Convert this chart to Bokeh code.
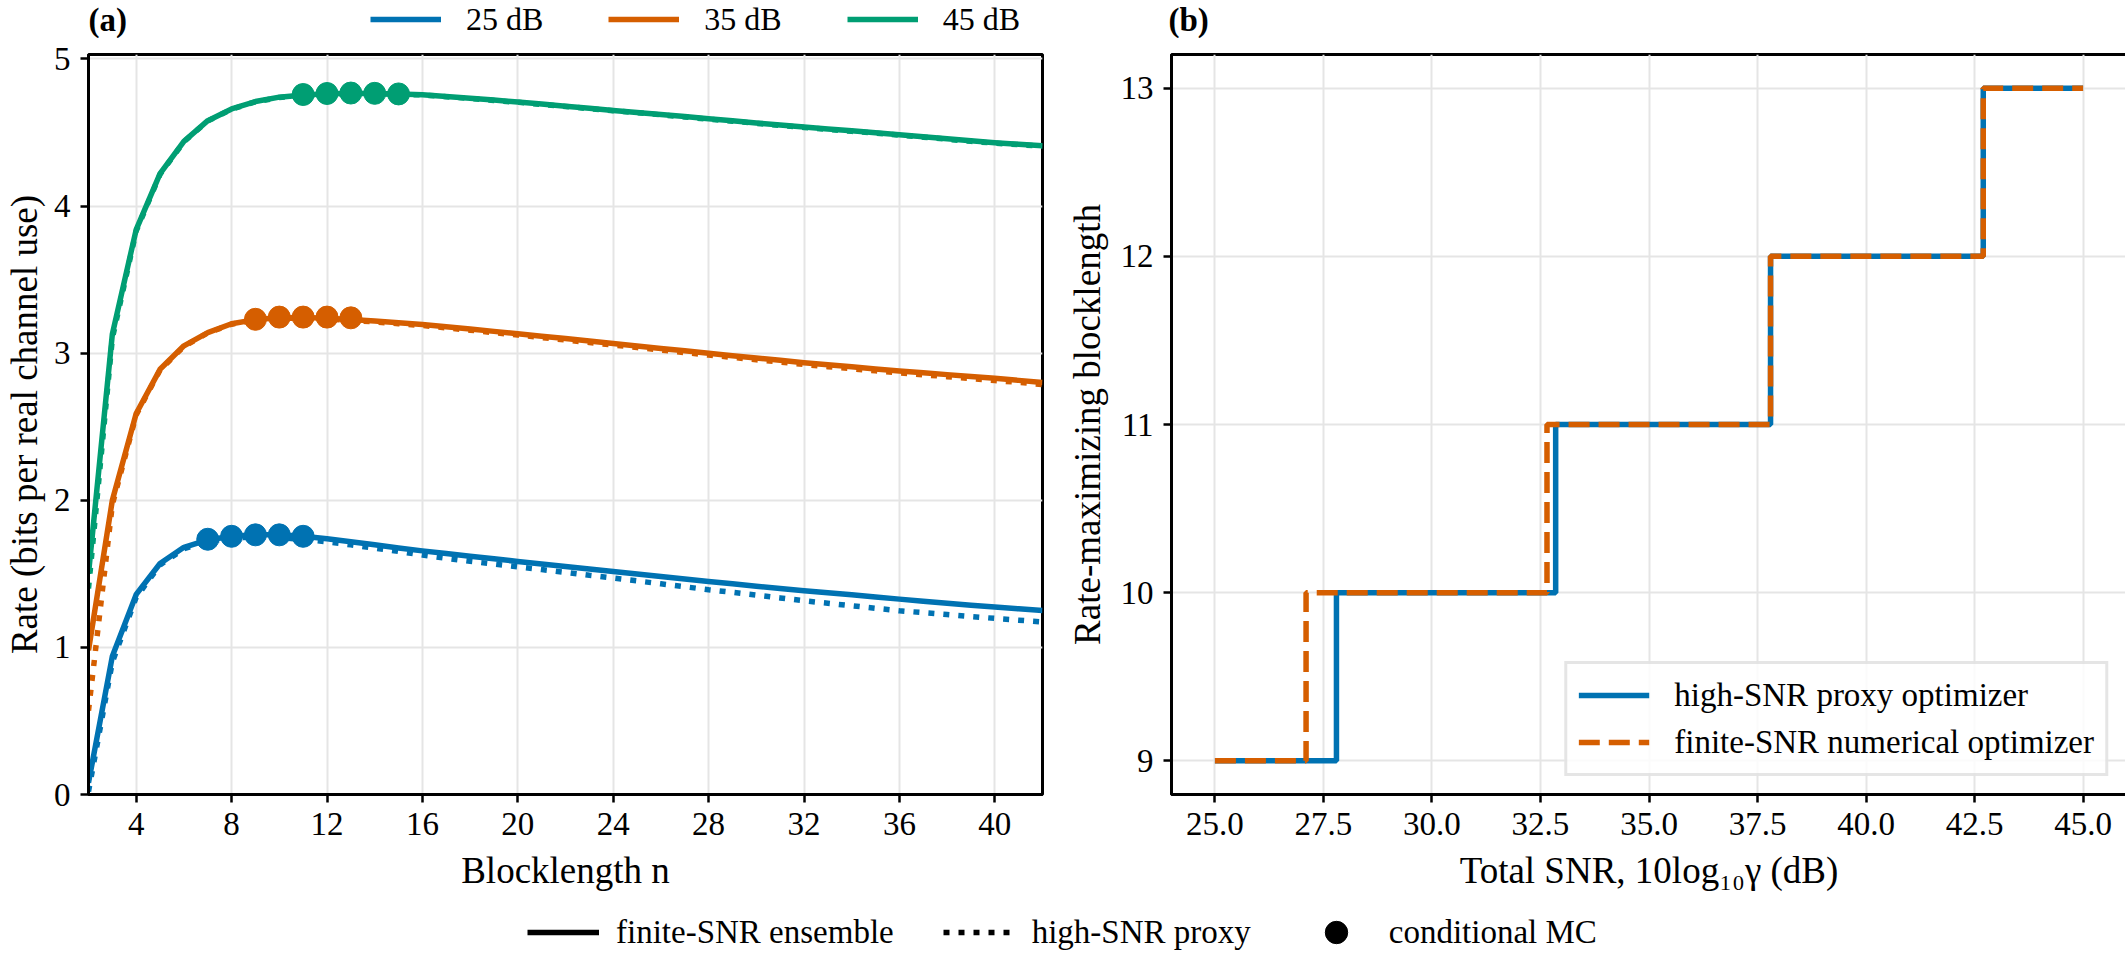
from bokeh.plotting import figure
from bokeh.models import Range1d, Legend, LegendItem, Label, FixedTicker, NumeralTickFormatter
from bokeh.layouts import column, row
from bokeh.embed import file_html
from bokeh.resources import INLINE

# ---------------- data: panel (a) ----------------
blocklength = list(range(2, 43))

rate_25_finite = [0.08, 0.94, 1.36, 1.57, 1.68, 1.73, 1.755, 1.765, 1.765, 1.755,
                  1.738, 1.718, 1.697, 1.676, 1.656, 1.638, 1.62, 1.602, 1.584, 1.567,
                  1.55, 1.533, 1.516, 1.499, 1.482, 1.465, 1.448, 1.432, 1.416, 1.40,
                  1.385, 1.371, 1.357, 1.342, 1.328, 1.314, 1.30, 1.287, 1.274, 1.262, 1.25]
rate_25_proxy = [0.02, 0.90, 1.34, 1.56, 1.67, 1.72, 1.745, 1.75, 1.745, 1.735,
                 1.718, 1.697, 1.675, 1.652, 1.628, 1.606, 1.585, 1.566, 1.548, 1.529,
                 1.51, 1.49, 1.471, 1.452, 1.432, 1.412, 1.392, 1.374, 1.355, 1.336,
                 1.317, 1.30, 1.283, 1.266, 1.249, 1.236, 1.223, 1.21, 1.197, 1.185, 1.173]
rate_35_finite = [0.98, 2.00, 2.59, 2.89, 3.05, 3.14, 3.20, 3.228, 3.24, 3.242,
                  3.237, 3.228, 3.218, 3.207, 3.195, 3.18, 3.164, 3.148, 3.132, 3.115,
                  3.099, 3.082, 3.066, 3.049, 3.032, 3.016, 2.999, 2.983, 2.967, 2.951,
                  2.935, 2.921, 2.907, 2.893, 2.879, 2.866, 2.854, 2.841, 2.829, 2.815, 2.80]
rate_35_proxy = [0.57, 1.97, 2.58, 2.885, 3.046, 3.137, 3.197, 3.225, 3.236, 3.238,
                 3.232, 3.223, 3.212, 3.2, 3.188, 3.172, 3.156, 3.139, 3.123, 3.106,
                 3.089, 3.072, 3.055, 3.038, 3.021, 3.004, 2.987, 2.971, 2.955, 2.939,
                 2.923, 2.908, 2.894, 2.88, 2.866, 2.853, 2.84, 2.827, 2.814, 2.801, 2.787]
rate_45_finite = [1.50, 3.13, 3.84, 4.22, 4.44, 4.58, 4.66, 4.71, 4.74, 4.755,
                  4.763, 4.766, 4.765, 4.762, 4.757, 4.745, 4.733, 4.72, 4.707, 4.693,
                  4.679, 4.664, 4.65, 4.636, 4.622, 4.608, 4.594, 4.58, 4.565, 4.551,
                  4.537, 4.524, 4.511, 4.498, 4.485, 4.471, 4.457, 4.443, 4.43, 4.42, 4.41]
rate_45_proxy = [1.40, 3.10, 3.83, 4.215, 4.437, 4.578, 4.658, 4.708, 4.738, 4.753,
                 4.761, 4.764, 4.763, 4.76, 4.755, 4.743, 4.731, 4.718, 4.705, 4.691,
                 4.677, 4.662, 4.648, 4.634, 4.62, 4.605, 4.591, 4.577, 4.562, 4.548,
                 4.534, 4.521, 4.508, 4.495, 4.482, 4.468, 4.454, 4.44, 4.427, 4.417, 4.407]

mc_n_25 = [7, 8, 9, 10, 11]
mc_rate_25 = [1.735, 1.755, 1.765, 1.765, 1.755]
mc_n_35 = [9, 10, 11, 12, 13]
mc_rate_35 = [3.23, 3.245, 3.245, 3.245, 3.24]
mc_n_45 = [11, 12, 13, 14, 15]
mc_rate_45 = [4.758, 4.765, 4.768, 4.766, 4.762]

snr_labels = ["25 dB", "35 dB", "45 dB"]
colors = ["#0072B2", "#D55E00", "#009E73"]

# ---------------- data: panel (b) ----------------
snr_proxy = [25.0, 27.8, 32.85, 37.8, 42.7, 45.0]
nopt_proxy = [9, 10, 11, 12, 13, 13]
snr_finite = [25.0, 27.1, 32.65, 37.8, 42.7, 45.0]
nopt_finite = [9, 10, 11, 12, 13, 13]

FONT = "Liberation Serif"
LW = 5.5
DOT = "6 9"
DASH = "21 9"
STRIP_H = 38


def style(p):
    p.outline_line_color = "black"
    p.outline_line_width = 3
    p.background_fill_color = "white"
    p.border_fill_color = "white"
    for ax in p.axis:
        ax.axis_line_width = 3
        ax.axis_line_color = "black"
        ax.major_tick_line_width = 2.5
        ax.major_tick_out = 8
        ax.major_tick_in = 0
        ax.minor_tick_line_color = None
        ax.major_label_text_font = FONT
        ax.major_label_text_font_size = "33px"
        ax.major_label_text_color = "black"
        ax.axis_label_text_font = FONT
        ax.axis_label_text_font_size = "37px"
        ax.axis_label_text_font_style = "normal"
        ax.axis_label_text_color = "black"
        ax.major_label_standoff = 10
        ax.axis_label_standoff = 12
    p.grid.grid_line_color = "#e5e5e5"
    p.grid.grid_line_width = 2


def strip(width, height):
    s = figure(width=width, height=height, min_border=0, output_backend="svg", toolbar_location=None,
               x_axis_location=None, y_axis_location=None, x_range=Range1d(0, 1), y_range=Range1d(0, 1))
    s.grid.visible = False
    s.outline_line_color = None
    s.background_fill_color = "white"
    s.border_fill_color = "white"
    return s


# ---------------- panel (a) ----------------
pa = figure(frame_width=954, frame_height=740, x_range=Range1d(2, 42), y_range=Range1d(0, 5.03),
            output_backend="svg", toolbar_location=None,
            min_border_left=87, min_border_right=21, min_border_top=54 - STRIP_H, min_border_bottom=106)
style(pa)
pa.xaxis.ticker = FixedTicker(ticks=[4, 8, 12, 16, 20, 24, 28, 32, 36, 40])
pa.yaxis.ticker = FixedTicker(ticks=[0, 1, 2, 3, 4, 5])
pa.xaxis.axis_label = "Blocklength n"
pa.yaxis.axis_label = "Rate (bits per real channel use)"
pa.yaxis.axis_label_standoff = 6

finite = [rate_25_finite, rate_35_finite, rate_45_finite]
proxy = [rate_25_proxy, rate_35_proxy, rate_45_proxy]
mc_n = [mc_n_25, mc_n_35, mc_n_45]
mc_r = [mc_rate_25, mc_rate_35, mc_rate_45]
for i in range(3):
    pa.line(blocklength, finite[i], line_color=colors[i], line_width=LW, line_join="round")
    pa.line(blocklength, proxy[i], line_color=colors[i], line_width=LW, line_dash=DOT)
    pa.scatter(mc_n[i], mc_r[i], marker="circle", size=22, fill_color=colors[i], line_color=colors[i])

# ---------------- panel (b) ----------------
pb = figure(frame_width=955, frame_height=740, x_range=Range1d(24, 46), y_range=Range1d(8.8, 13.2),
            output_backend="svg", toolbar_location=None,
            min_border_left=106, min_border_right=2, min_border_top=54 - STRIP_H, min_border_bottom=106)
style(pb)
pb.xaxis.ticker = FixedTicker(ticks=[25, 27.5, 30, 32.5, 35, 37.5, 40, 42.5, 45])
pb.xaxis.formatter = NumeralTickFormatter(format="0.0")
pb.yaxis.ticker = FixedTicker(ticks=[9, 10, 11, 12, 13])
pb.xaxis.axis_label = "Total SNR, 10log\u2081\u2080\u03b3 (dB)"
pb.yaxis.axis_label = "Rate-maximizing blocklength"
pb.yaxis.axis_label_standoff = 10

rb1 = pb.step(snr_proxy, nopt_proxy, mode="after", line_color=colors[0], line_width=LW)
rb2 = pb.step(snr_finite, nopt_finite, mode="after", line_color=colors[1], line_width=LW, line_dash=DASH)
leg_b = Legend(items=[LegendItem(label="high-SNR proxy optimizer", renderers=[rb1]),
                     LegendItem(label="finite-SNR numerical optimizer", renderers=[rb2])],
               location="bottom_right", margin=18, padding=11, spacing=7,
               glyph_width=71, glyph_height=40, label_height=40, label_standoff=25,
               border_line_color="#cccccc", border_line_width=3,
               background_fill_color="white", background_fill_alpha=0.85,
               label_text_font=FONT, label_text_font_size="33px", label_text_color="black")
pb.add_layout(leg_b)

# ---------------- top strip: panel tags and SNR legend ----------------
pt = strip(2125, STRIP_H)
# legend-only renderers: the curves of panel (a), drawn outside this strip's visible range
top_renderers = [pt.line(blocklength, finite[i], line_color=colors[i], line_width=LW) for i in range(3)]
top_legend = Legend(items=[LegendItem(label=snr_labels[i], renderers=[top_renderers[i]]) for i in range(3)],
                    orientation="horizontal", location=(370, 0),
                    border_line_color=None, background_fill_alpha=0, padding=0, margin=0,
                    spacing=65, label_standoff=25, glyph_width=71, glyph_height=38, label_height=38,
                    label_text_font=FONT, label_text_font_size="32px", label_text_color="black")
pt.add_layout(top_legend)
for tag, xpos in (("(a)", 88), ("(b)", 1168)):
    pt.add_layout(Label(x=xpos, y=STRIP_H / 2, x_units="screen", y_units="screen", text=tag, text_font=FONT,
                        text_font_size="33px", text_font_style="bold", text_baseline="middle",
                        text_color="black"))

# ---------------- shared bottom legend ----------------
pl = strip(2125, 53)
l1 = pl.line(blocklength, rate_25_finite, line_color="black", line_width=LW)
l2 = pl.line(blocklength, rate_25_proxy, line_color="black", line_width=LW, line_dash=DOT)
l3 = pl.scatter(mc_n_25, mc_rate_25, marker="circle", size=22, fill_color="black", line_color="black")
bottom_legend = Legend(items=[LegendItem(label="finite-SNR ensemble", renderers=[l1]),
                              LegendItem(label="high-SNR proxy", renderers=[l2]),
                              LegendItem(label="conditional MC", renderers=[l3])],
                       orientation="horizontal", location=(527, -7),
                       border_line_color=None, background_fill_alpha=0, padding=0, margin=0,
                       spacing=49, label_standoff=17, glyph_width=72, glyph_height=56, label_height=40,
                       label_text_font=FONT, label_text_font_size="33px", label_text_color="black")
pl.add_layout(bottom_legend)

layout = column(pt, row(pa, pb), pl)
open("out.html", "w").write(file_html(layout, INLINE))
